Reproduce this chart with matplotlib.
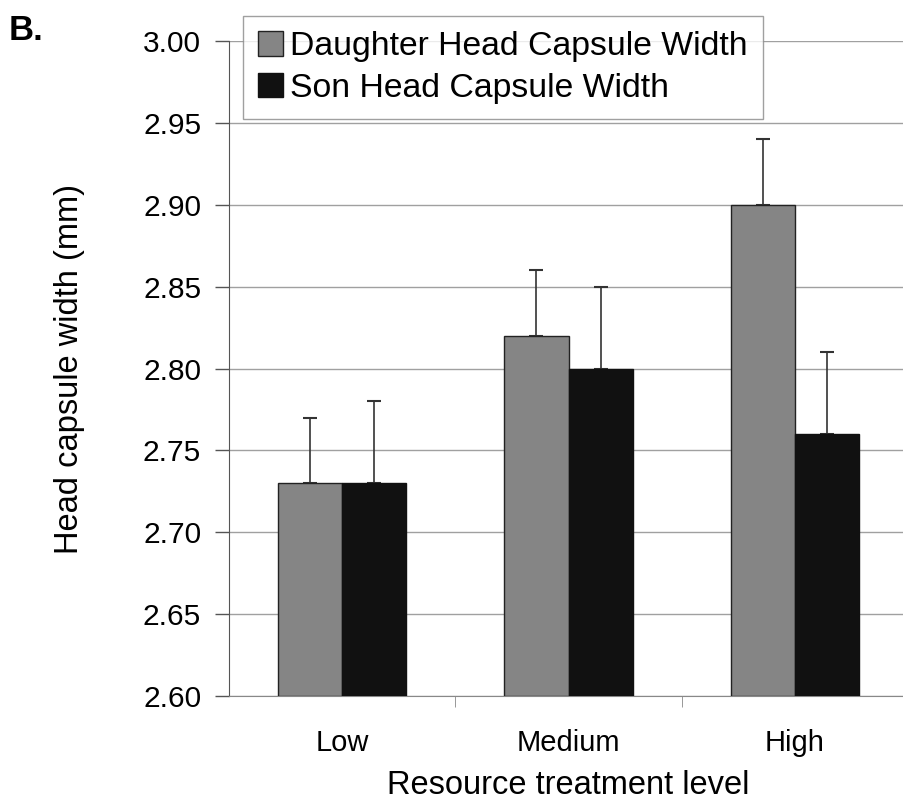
import numpy as np
import matplotlib
matplotlib.use('Agg')
import matplotlib.pyplot as plt

plt.rcParams['font.family'] = ['Liberation Sans', 'DejaVu Sans']

# Head capsule widths (mm) by resource treatment level
levels = ['Low', 'Medium', 'High']
daughter_mean = [2.73, 2.82, 2.90]
daughter_err = [0.04, 0.04, 0.04]
son_mean = [2.73, 2.80, 2.76]
son_err = [0.05, 0.05, 0.05]

fig = plt.figure(figsize=(9.04, 8.05), dpi=100)
ax = fig.add_axes([229 / 904, 1 - 696 / 805, 679 / 904, 655 / 805])

x = np.arange(len(levels))
w = 0.283
base = 2.60

ax.bar(x - w / 2, np.array(daughter_mean) - base, w, bottom=base,
       color='#858585', edgecolor='#222222', lw=1.0, zorder=3,
       label='Daughter Head Capsule Width')
ax.bar(x + w / 2, np.array(son_mean) - base, w, bottom=base,
       color='#111111', edgecolor='#111111', lw=1.0, zorder=3,
       label='Son Head Capsule Width')

# one-sided (upper) error bars
ax.errorbar(x - w / 2, daughter_mean, yerr=[np.zeros(3), daughter_err],
            fmt='none', ecolor='#333333', elinewidth=1.2, capsize=5,
            capthick=1.5, zorder=2)
ax.errorbar(x + w / 2, son_mean, yerr=[np.zeros(3), son_err],
            fmt='none', ecolor='#333333', elinewidth=1.2, capsize=5,
            capthick=1.5, zorder=2)

ax.set_xlim(-0.5, 2.5)
ax.set_ylim(2.60, 3.00)
yt = np.arange(2.60, 3.001, 0.05)
ax.set_yticks(yt)
ax.set_yticklabels([f'{v:.2f}' for v in yt])
ax.yaxis.grid(True, color='#a0a0a0', lw=1.0)
ax.set_axisbelow(True)

ax.set_xticks([0.5, 1.5], minor=True)
ax.set_xticks(x)
ax.set_xticklabels(levels)
ax.tick_params(axis='x', which='major', length=0, pad=24, labelsize=21)
ax.tick_params(axis='x', which='minor', length=8, direction='out', color='#888888')
ax.tick_params(axis='y', length=10, width=1, color='#555555', pad=10, labelsize=21.5)

for s in ['top', 'right']:
    ax.spines[s].set_visible(False)
ax.spines['left'].set_color('#555555')
ax.spines['bottom'].set_color('#888888')

ax.set_ylabel('Head capsule width (mm)', fontsize=23.5, labelpad=42)
ax.set_xlabel('Resource treatment level', fontsize=23.5, labelpad=9)

leg = ax.legend(loc='upper left', bbox_to_anchor=(14 / 679, 1.038), fontsize=24.3,
                frameon=True, fancybox=False, edgecolor='#888888',
                handlelength=0.75, handleheight=0.75, handletextpad=0.2,
                borderpad=0.45, labelspacing=0.3, borderaxespad=0)
leg.get_frame().set_linewidth(1.0)

fig.text(9 / 904, 1 - 40 / 805, 'B.', fontsize=25, fontweight='bold')

fig.savefig('out.png', dpi=100)
